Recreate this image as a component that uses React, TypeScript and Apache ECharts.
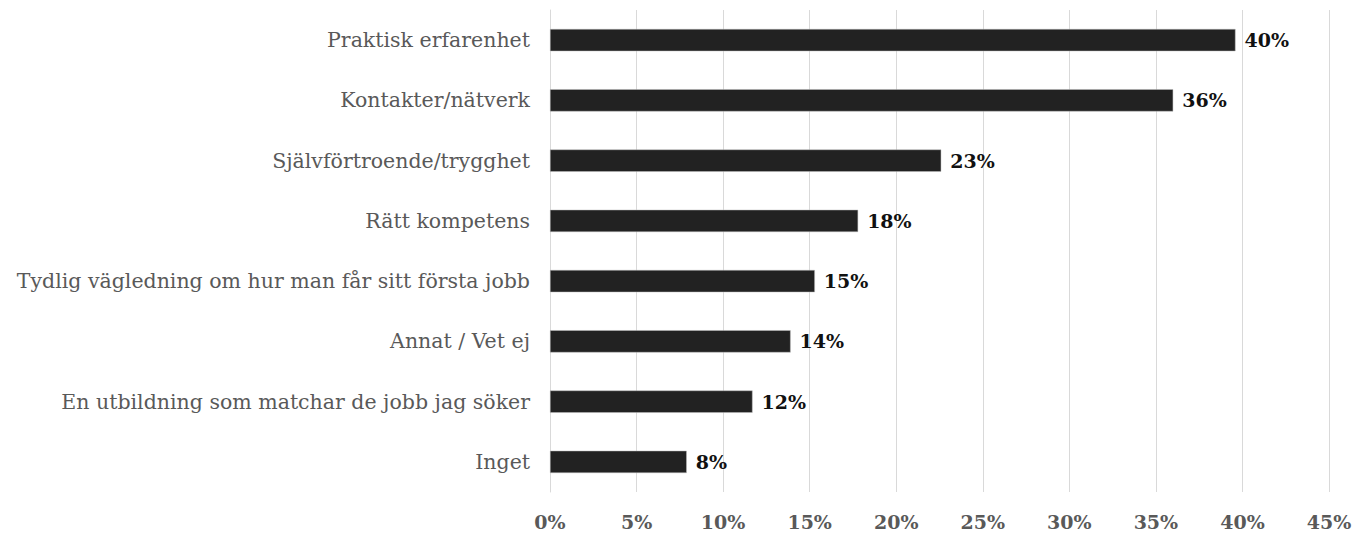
import React, { useEffect, useRef } from "react";
import * as echarts from "echarts";

const categories = [
  "Praktisk erfarenhet",
  "Kontakter/nätverk",
  "Självförtroende/trygghet",
  "Rätt kompetens",
  "Tydlig vägledning om hur man får sitt första jobb",
  "Annat / Vet ej",
  "En utbildning som matchar de jobb jag söker",
  "Inget",
];
const values = [39.6, 36.0, 22.6, 17.8, 15.3, 13.9, 11.7, 7.9];

const FONT = "'DejaVu Serif', serif";

export default function App() {
  const ref = useRef<HTMLDivElement>(null);
  useEffect(() => {
    if (!ref.current) return;
    const chart = echarts.init(ref.current, undefined, { renderer: "svg" });
    chart.setOption({
      animation: false,
      backgroundColor: "#ffffff",
      grid: { left: 550, right: 38, top: 10, bottom: 42, containLabel: false },
      xAxis: {
        type: "value",
        min: 0,
        max: 45,
        interval: 5,
        axisLine: { show: false },
        axisTick: { show: false },
        splitLine: { show: true, lineStyle: { color: "#d9d9d9", width: 1 } },
        axisLabel: {
          formatter: (v: number) => `${v}%`,
          color: "#595959",
          fontFamily: FONT,
          fontSize: 19,
          fontWeight: "bold",
          margin: 20,
        },
      },
      yAxis: {
        type: "category",
        data: categories.slice().reverse(),
        axisLine: { show: true, lineStyle: { color: "#d9d9d9" } },
        axisTick: { show: false },
        axisLabel: {
          color: "#595959",
          fontFamily: FONT,
          fontSize: 20.5,
          margin: 20,
        },
      },
      series: [
        {
          type: "bar",
          data: values.slice().reverse(),
          barCategoryGap: "63%",
          itemStyle: { color: "#222222", borderColor: "#bfbfbf", borderWidth: 0.5 },
          label: {
            show: true,
            position: "right",
            distance: 9,
            formatter: (p: any) => `${Math.round(p.value)}%`,
            color: "#111111",
            fontFamily: FONT,
            fontSize: 19,
            fontWeight: "bold",
          },
        },
      ],
    });
    return () => chart.dispose();
  }, []);
  return (
    <div
      ref={ref}
      style={{ position: "fixed", left: 0, top: 0, width: 1367, height: 534, background: "#fff" }}
    />
  );
}
